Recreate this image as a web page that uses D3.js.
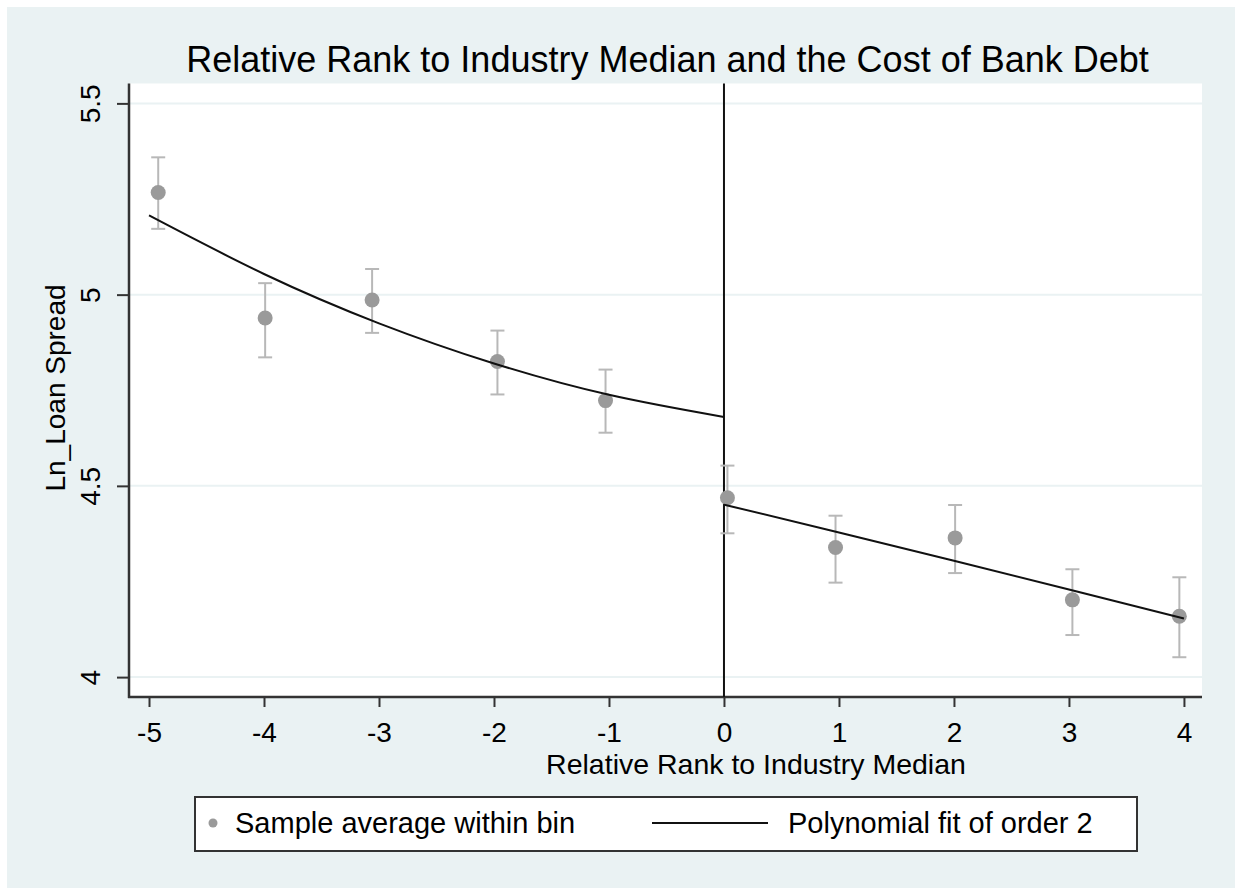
<!DOCTYPE html>
<html>
<head>
<meta charset="utf-8">
<script src="https://cdn.jsdelivr.net/npm/d3@7"></script>
<style>
  body { margin: 0; background: #ffffff; }
  svg text { font-family: "Liberation Sans", Arial, sans-serif; fill: #000; }
</style>
</head>
<body>
<div id="chart"></div>
<script>
// bins (sample averages with confidence bars)
var binX = [-4.92, -3.99, -3.06, -1.97, -1.03, 0.03, 0.97, 2.01, 3.03, 3.96];
var binY = [5.267, 4.939, 4.986, 4.825, 4.723, 4.469, 4.339, 4.364, 4.202, 4.159];
var ciLow = [5.172, 4.836, 4.900, 4.739, 4.639, 4.376, 4.247, 4.272, 4.110, 4.052];
var ciHigh = [5.359, 5.030, 5.067, 4.906, 4.804, 4.553, 4.422, 4.450, 4.282, 4.261];

// polynomial fit, left and right of the cutoff
var fitLeftX = [-5, -4, -3, -2, -1, 0];
var fitLeftY = [5.207, 5.054, 4.925, 4.820, 4.738, 4.680];
var fitRightX = [0, 1, 2, 3, 4];
var fitRightY = [4.451, 4.378, 4.304, 4.229, 4.153];

var xTicks = [-5, -4, -3, -2, -1, 0, 1, 2, 3, 4];
var yTicks = [4, 4.5, 5, 5.5];
var yTickLabels = ["4", "4.5", "5", "5.5"];

var W = 1235, H = 888;
var plotLeft = 129, plotRight = 1202, plotTop = 83.5, plotBottom = 697;

var bg = "#eaf2f3";

var svg = d3.select("#chart")
    .append("svg")
    .attr("width", W)
    .attr("height", H);

// outer background
svg.append("rect")
    .attr("x", 7).attr("y", 7)
    .attr("width", W - 7).attr("height", H - 7)
    .attr("fill", bg);

// plot region
svg.append("rect")
    .attr("x", plotLeft).attr("y", plotTop)
    .attr("width", plotRight - plotLeft).attr("height", plotBottom - plotTop)
    .attr("fill", "#ffffff");

var xScale = d3.scaleLinear()
    .domain([-5.174, 4.157])
    .range([plotLeft, plotRight]);

var yScale = d3.scaleLinear()
    .domain([3.948, 5.552])
    .range([plotBottom, plotTop]);

// gridlines
svg.append("g")
    .selectAll("line")
    .data(yTicks)
    .enter()
    .append("line")
    .attr("x1", plotLeft).attr("x2", plotRight)
    .attr("y1", function(d) { return yScale(d); })
    .attr("y2", function(d) { return yScale(d); })
    .attr("stroke", bg)
    .attr("stroke-width", 2);

// axes
var xAxis = d3.axisBottom(xScale)
    .tickValues(xTicks)
    .tickSize(10)
    .tickFormat(function(d) { return String(d); });

var gx = svg.append("g")
    .attr("transform", "translate(0," + plotBottom + ")")
    .call(xAxis);
gx.select(".domain").remove();
gx.selectAll(".tick line").attr("stroke", "#333").attr("stroke-width", 2);
gx.selectAll(".tick text")
    .attr("font-size", "28px")
    .attr("dy", null)
    .attr("y", 45);

var yAxis = d3.axisLeft(yScale)
    .tickValues(yTicks)
    .tickSize(12)
    .tickFormat(function(d, i) { return yTickLabels[i]; });

var gy = svg.append("g")
    .attr("transform", "translate(" + plotLeft + ",0)")
    .call(yAxis);
gy.select(".domain").remove();
gy.selectAll(".tick line").attr("stroke", "#333").attr("stroke-width", 2);
gy.selectAll(".tick text")
    .attr("font-size", "28px")
    .attr("x", null)
    .attr("dy", null)
    .attr("text-anchor", "middle")
    .attr("transform", "translate(-29,0) rotate(-90)");

// axis lines
svg.append("line")
    .attr("x1", plotLeft).attr("x2", plotLeft)
    .attr("y1", plotTop).attr("y2", plotBottom + 1)
    .attr("stroke", "#333").attr("stroke-width", 2.5);
svg.append("line")
    .attr("x1", plotLeft - 1).attr("x2", plotRight)
    .attr("y1", plotBottom).attr("y2", plotBottom)
    .attr("stroke", "#333").attr("stroke-width", 2.5);

// cutoff line
svg.append("line")
    .attr("x1", xScale(0)).attr("x2", xScale(0))
    .attr("y1", plotTop).attr("y2", plotBottom)
    .attr("stroke", "#111").attr("stroke-width", 2);

// confidence bars
var bars = svg.append("g")
    .attr("stroke", "#b8b8b8")
    .attr("stroke-width", 2)
    .attr("fill", "none");

binX.forEach(function(x, i) {
    var cx = xScale(x);
    bars.append("line")
        .attr("x1", cx).attr("x2", cx)
        .attr("y1", yScale(ciLow[i])).attr("y2", yScale(ciHigh[i]));
    bars.append("line")
        .attr("x1", cx - 7).attr("x2", cx + 7)
        .attr("y1", yScale(ciLow[i])).attr("y2", yScale(ciLow[i]));
    bars.append("line")
        .attr("x1", cx - 7).attr("x2", cx + 7)
        .attr("y1", yScale(ciHigh[i])).attr("y2", yScale(ciHigh[i]));
});

// points
svg.append("g")
    .selectAll("circle")
    .data(binX)
    .enter()
    .append("circle")
    .attr("cx", function(d) { return xScale(d); })
    .attr("cy", function(d, i) { return yScale(binY[i]); })
    .attr("r", 7.5)
    .attr("fill", "#9a9a9a");

// fit lines
var line = d3.line()
    .x(function(d) { return xScale(d[0]); })
    .y(function(d) { return yScale(d[1]); })
    .curve(d3.curveNatural);

svg.append("path")
    .datum(d3.zip(fitLeftX, fitLeftY))
    .attr("d", line)
    .attr("fill", "none")
    .attr("stroke", "#111")
    .attr("stroke-width", 2);

svg.append("path")
    .datum(d3.zip(fitRightX, fitRightY))
    .attr("d", line)
    .attr("fill", "none")
    .attr("stroke", "#111")
    .attr("stroke-width", 2);

// title and axis titles
svg.append("text")
    .attr("x", 667.5).attr("y", 72)
    .attr("text-anchor", "middle")
    .attr("font-size", "36px")
    .text("Relative Rank to Industry Median and the Cost of Bank Debt");

svg.append("text")
    .attr("x", 756).attr("y", 774)
    .attr("text-anchor", "middle")
    .attr("font-size", "28.5px")
    .text("Relative Rank to Industry Median");

svg.append("text")
    .attr("transform", "translate(65,388) rotate(-90)")
    .attr("text-anchor", "middle")
    .attr("font-size", "28px")
    .text("Ln_Loan Spread");

// legend
var lg = svg.append("g");
lg.append("rect")
    .attr("x", 195).attr("y", 797)
    .attr("width", 1137 - 195).attr("height", 54)
    .attr("fill", "#ffffff")
    .attr("stroke", "#333")
    .attr("stroke-width", 2);
lg.append("circle")
    .attr("cx", 213).attr("cy", 823)
    .attr("r", 4.5)
    .attr("fill", "#9a9a9a");
lg.append("text")
    .attr("x", 235).attr("y", 833)
    .attr("font-size", "29px")
    .text("Sample average within bin");
lg.append("line")
    .attr("x1", 652).attr("x2", 768)
    .attr("y1", 823).attr("y2", 823)
    .attr("stroke", "#111")
    .attr("stroke-width", 2);
lg.append("text")
    .attr("x", 788).attr("y", 833)
    .attr("font-size", "29px")
    .text("Polynomial fit of order 2");
</script>
</body>
</html>
